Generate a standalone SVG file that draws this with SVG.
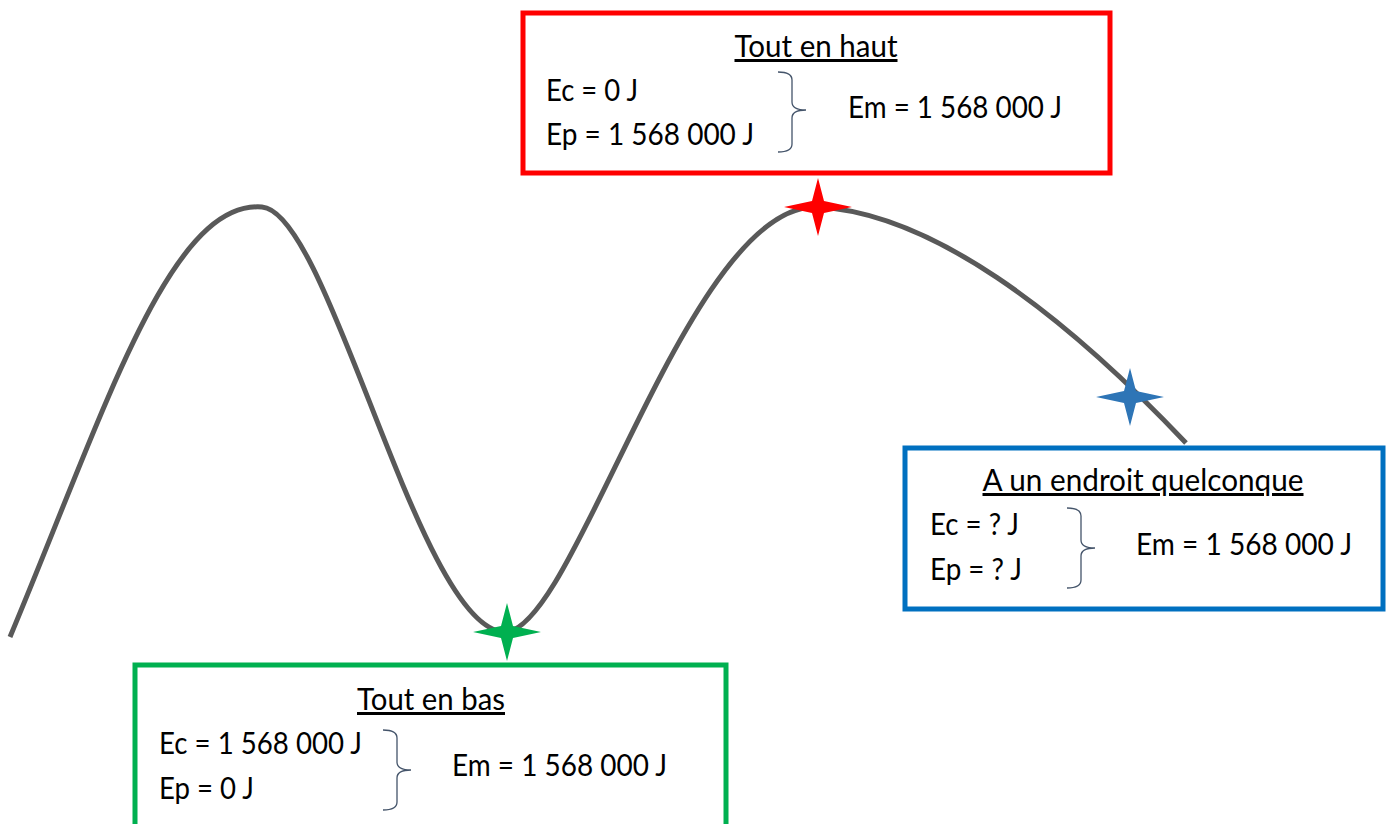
<svg xmlns="http://www.w3.org/2000/svg" width="1392" height="824" viewBox="0 0 1392 824">
<style>
text{font-family:Lato,"Open Sans","Liberation Sans",sans-serif;font-size:30px;fill:#000}
.title{text-decoration:underline;text-anchor:middle}
.box{fill:#fff;stroke-width:5}
.brace{fill:none;stroke:#44546A;stroke-width:1.3}
.curve{fill:none;stroke:#595959;stroke-width:5}
</style>
<defs>
<path id="star" d="M0,-29 L6,-6 L34,0 L6,6 L0,29 L-6,6 L-34,0 L-6,-6 Z"/>
</defs>
<rect width="1392" height="824" fill="#fff"/>
<g id="connectors">
<path class="curve" d="M10,637 C105,410 170,200 262,207 C330,212 420,632 505,632 C575,632 690,200 818,207 C930,213 1060,310 1186,443"/>
</g>
<g id="star-top"><use href="#star" x="818" y="207" fill="#FF0000"/></g>
<g id="star-bottom"><use href="#star" x="507" y="632" fill="#00B050"/></g>
<g id="star-any"><use href="#star" x="1130" y="397" fill="#2E75B6"/></g>
<g id="box-top">
<rect class="box" x="523" y="13" width="587" height="160" stroke="#FF0000"/>
<text class="title" x="816" y="57" textLength="163" lengthAdjust="spacingAndGlyphs">Tout en haut</text>
<text x="546" y="101" textLength="92" lengthAdjust="spacingAndGlyphs">Ec = 0 J</text>
<text x="546" y="145" textLength="208" lengthAdjust="spacingAndGlyphs">Ep = 1 568 000 J</text>
<path class="brace" d="M778,72 Q792,72 792,80 L792,102 Q792,110 806,110 Q792,110 792,118 L792,144 Q792,152 778,152"/>
<text x="848" y="118" textLength="214" lengthAdjust="spacingAndGlyphs">Em = 1 568 000 J</text>
</g>
<g id="box-any">
<rect class="box" x="905" y="448" width="478" height="161" stroke="#0070C0"/>
<text class="title" x="1143" y="491" textLength="321" lengthAdjust="spacingAndGlyphs">A un endroit quelconque</text>
<text x="930" y="535" textLength="89" lengthAdjust="spacingAndGlyphs">Ec = ? J</text>
<text x="930" y="580" textLength="92" lengthAdjust="spacingAndGlyphs">Ep = ? J</text>
<path class="brace" d="M1067,508 Q1081,508 1081,516 L1081,540 Q1081,548 1095,548 Q1081,548 1081,556 L1081,580 Q1081,588 1067,588"/>
<text x="1136" y="555" textLength="216" lengthAdjust="spacingAndGlyphs">Em = 1 568 000 J</text>
</g>
<g id="box-bottom">
<rect class="box" x="135" y="665" width="591" height="170" stroke="#00B050"/>
<text class="title" x="431" y="710" textLength="148" lengthAdjust="spacingAndGlyphs">Tout en bas</text>
<text x="159" y="754" textLength="203" lengthAdjust="spacingAndGlyphs">Ec = 1 568 000 J</text>
<text x="159" y="799" textLength="95" lengthAdjust="spacingAndGlyphs">Ep = 0 J</text>
<path class="brace" d="M383,730 Q397,730 397,738 L397,762 Q397,770 411,770 Q397,770 397,778 L397,802 Q397,810 383,810"/>
<text x="452" y="776" textLength="215" lengthAdjust="spacingAndGlyphs">Em = 1 568 000 J</text>
</g>
</svg>
